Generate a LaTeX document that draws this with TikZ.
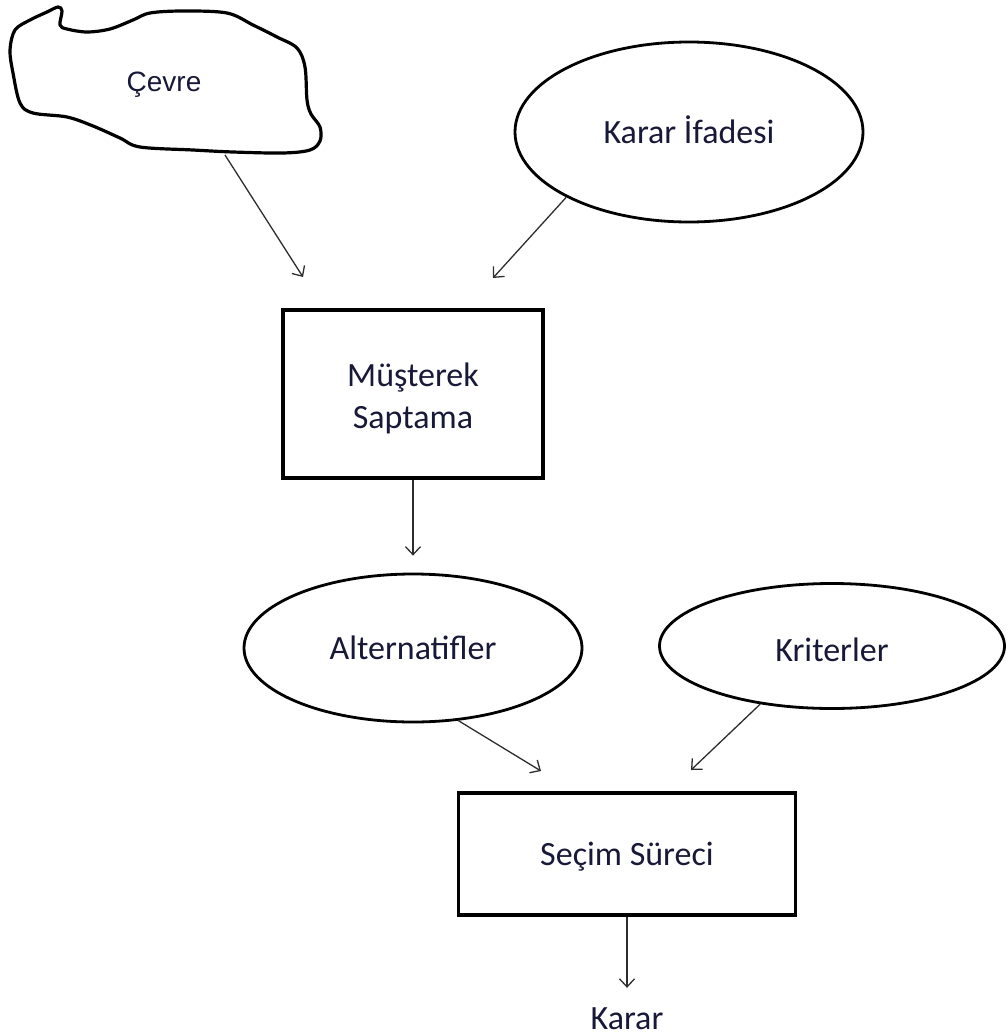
\documentclass[tikz,border=0pt]{standalone}
\usepackage{fontspec}
\setmainfont{Carlito}
\newfontfamily\arialfont{Liberation Sans}
\usetikzlibrary{shapes.geometric,arrows.meta}
\definecolor{txt}{RGB}{24,24,56}
\definecolor{arr}{RGB}{45,45,45}
\tikzset{
  lbl/.style={text=txt,font=\fontsize{34}{41.5}\selectfont,inner sep=0pt},
  oval/.style={ellipse,draw=black,line width=2.8pt,inner sep=0pt,text=txt,font=\fontsize{34}{41.5}\selectfont,text height=22pt,text depth=0pt},
  box/.style={rectangle,draw=black,line width=3.6pt,inner sep=0pt,text=txt,font=\fontsize{34}{41.5}\selectfont,align=center},
  conn/.style={draw=arr,line width=1.3pt,-{Straight Barb[length=8pt,width=15pt,line width=1.3pt]}},
  cloudline/.style={draw=black,line width=3.2pt,line join=round}
}
\begin{document}
\begin{tikzpicture}[x=1pt,y=-1pt]
\useasboundingbox (0,0) rectangle (1005,1036);
% cloud (Cevre)
\draw[cloudline] plot[smooth cycle,tension=0.55] coordinates {
 (15,30) (30,20) (47,12) (58,7) (62,11) (60,25) (67,29) (87,32) (110,29)
 (133,20) (150,13) (183,11) (227,13) (253,25) (277,37) (297,48) (305,67)
 (307,100) (311,114) (320,127) (320,141) (310,150) (283,153) (233,152)
 (193,150) (140,147) (120,138) (93,126) (67,117) (33,113) (20,103)
 (13,73) (10,50)};
\node[lbl,font=\arialfont\fontsize{28}{34}\selectfont,anchor=base] (cevre) at (164,91) {Çevre};
\coordinate (cevreb) at (225,155);
\coordinate (e1) at (303,277);
\coordinate (e2) at (493,278);
\coordinate (e4) at (541,771);
\coordinate (e5) at (691,770);

\node[oval,minimum width=348pt,minimum height=180pt] (ki) at (689,132) {Karar İfadesi};
\node[box,minimum width=260pt,minimum height=168pt] (ms) at (413,394) {\rule{0pt}{32pt}Müşterek\\Saptama};
\node[oval,minimum width=338pt,minimum height=148pt] (alt) at (413,648) {Alternatifler};
\node[oval,minimum width=345pt,minimum height=125pt,text height=30pt] (kri) at (832,646) {Kriterler};
\node[box,minimum width=337pt,minimum height=122pt,text height=22pt,text depth=0pt] (ss) at (627,854) {Seçim Süreci};
\node[lbl,text height=22pt,text depth=0pt] (karar) at (627,1018) {Karar};

\draw[conn] (cevreb) -- (e1);
\draw[conn] (ki.208) -- (e2);
\draw[conn,shorten >=17pt] (ms.south) -- (alt.north);
\draw[conn] (alt.302) -- (e4);
\draw[conn] (kri.219) -- (e5);
\draw[conn,shorten >=19pt] (ss.south) -- (karar.north);
\end{tikzpicture}
\end{document}
